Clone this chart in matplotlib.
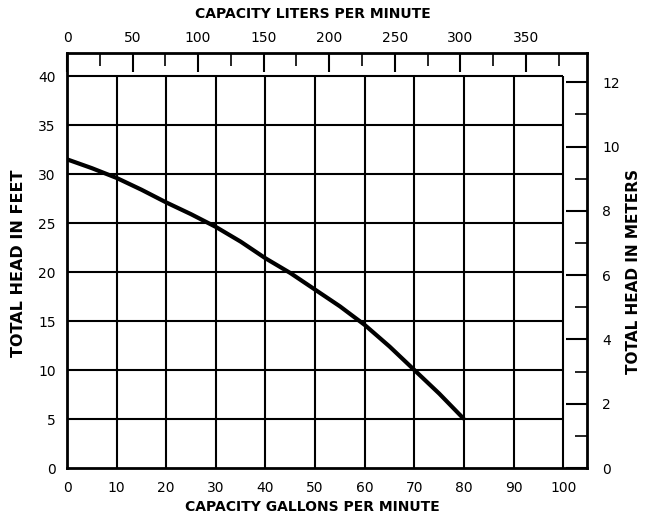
import matplotlib
matplotlib.use('Agg')
import matplotlib.pyplot as plt
import numpy as np

# Pump curve (gallons per minute vs head in feet)
gpm = [0, 5, 10, 15, 20, 25, 30, 35, 40, 45, 50, 55, 60, 65, 70, 75, 80]
head_ft = [31.5, 30.6, 29.6, 28.4, 27.1, 25.9, 24.6, 23.1, 21.4, 19.9,
           18.2, 16.5, 14.6, 12.4, 10.0, 7.6, 5.0]

# Scales
gpm_ticks = [0, 10, 20, 30, 40, 50, 60, 70, 80, 90, 100]
ft_ticks = [0, 5, 10, 15, 20, 25, 30, 35, 40]
lpm_ticks = [0, 50, 100, 150, 200, 250, 300, 350]
lpm_minor = [25, 75, 125, 175, 225, 275, 325, 375]
m_ticks = [0, 2, 4, 6, 8, 10, 12]
m_minor = [1, 3, 5, 7, 9, 11]

L_PER_GAL = 3.785
M_PER_FT = 0.3048

plt.rcParams['font.family'] = 'DejaVu Sans'

W, H = 645, 518
fig = plt.figure(figsize=(W / 100, H / 100), dpi=100)
ax = fig.add_axes([67 / W, 50 / H, 520 / W, 415 / H])
ax.set_xlim(0, 104.8)
ax.set_ylim(0, 42.35)

# grid stops at 100 gpm / 40 ft, leaving a band for the metric ticks
ax.vlines(gpm_ticks[1:], 0, 40, color='black', lw=1.5)
ax.hlines(ft_ticks[1:], 0, 100, color='black', lw=1.5)

ax.plot(gpm, head_ft, color='black', lw=3, solid_capstyle='butt')

for s in ax.spines.values():
    s.set_linewidth(2)

ax.set_xticks(gpm_ticks)
ax.set_yticks(ft_ticks)
ax.tick_params(axis='both', length=0, labelsize=10)
ax.tick_params(axis='x', pad=9)
ax.tick_params(axis='y', pad=8)

# top: liters per minute
top = ax.secondary_xaxis('top', functions=(lambda g: g * L_PER_GAL,
                                           lambda l: l / L_PER_GAL))
top.set_xticks(lpm_ticks)
top.set_xticks(lpm_minor, minor=True)
top.tick_params(which='major', direction='in', length=14, width=1.5,
                labelsize=10, pad=6)
top.tick_params(which='minor', direction='in', length=9, width=1.2)
top.spines['top'].set_visible(False)

# right: meters
right = ax.secondary_yaxis('right', functions=(lambda f: f * M_PER_FT,
                                               lambda m: m / M_PER_FT))
right.set_yticks(m_ticks)
right.set_yticks(m_minor, minor=True)
right.tick_params(which='major', direction='in', length=15, width=1.5,
                  labelsize=10, pad=11)
right.tick_params(which='minor', direction='in', length=9, width=1.2)
right.spines['right'].set_visible(False)

# axis titles
lab = dict(fontweight='bold', ha='center', va='center')
fig.text(313 / W, 1 - 14 / H, 'CAPACITY LITERS PER MINUTE', fontsize=10, **lab)
fig.text(312 / W, 1 - 507 / H, 'CAPACITY GALLONS PER MINUTE', fontsize=10, **lab)
fig.text(19 / W, 1 - 263 / H, 'TOTAL HEAD IN FEET', fontsize=11.5,
         rotation=90, **lab)
fig.text(633 / W, 1 - 271 / H, 'TOTAL HEAD IN METERS', fontsize=11,
         rotation=90, **lab)

fig.savefig('out.png', dpi=100)
